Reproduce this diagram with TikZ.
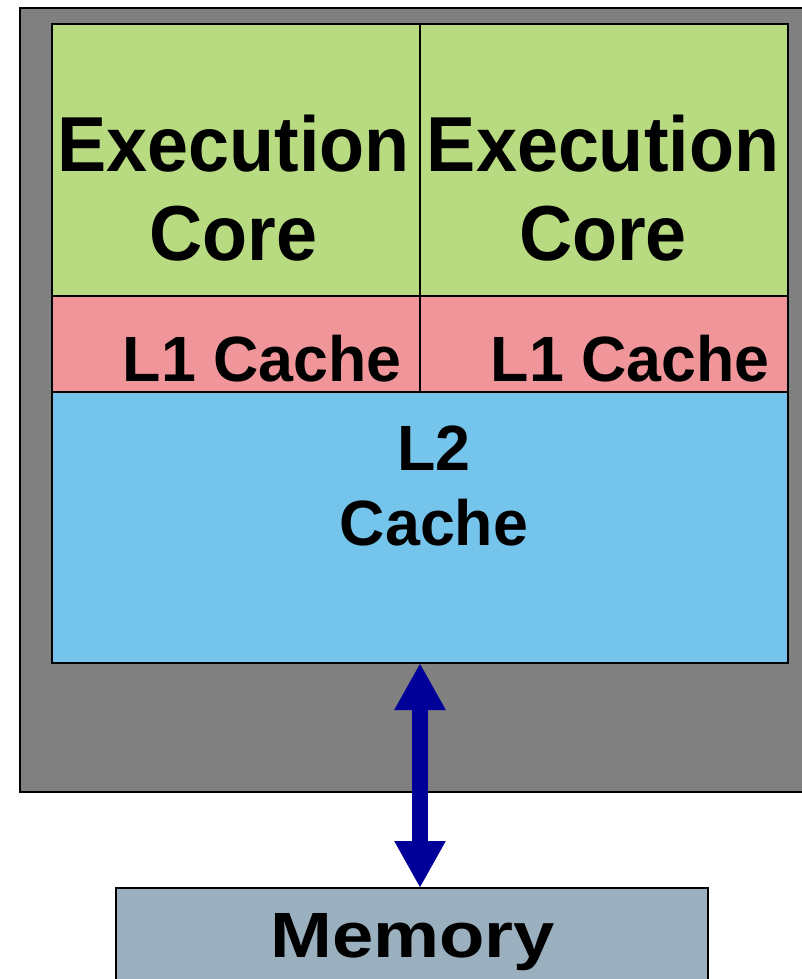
\documentclass[tikz,border=0pt]{standalone}
\usepackage{fontspec}
\setmainfont{Liberation Sans}
\newfontfamily\corefont{Liberation Sans}[FakeStretch=0.945]
\newfontfamily\cachefont{Liberation Sans}[FakeStretch=0.98]
\newfontfamily\memfont{Liberation Sans}[FakeStretch=1.16]
\usetikzlibrary{arrows.meta}

\definecolor{chipgray}{RGB}{128,128,128}
\definecolor{coregreen}{RGB}{184,218,128}
\definecolor{lonepink}{RGB}{240,150,154}
\definecolor{ltwoblue}{RGB}{117,196,236}
\definecolor{memgray}{RGB}{155,176,191}
\definecolor{busblue}{RGB}{0,0,153}

\begin{document}
\begin{tikzpicture}[x=1pt, y=-1pt,
	box/.style={draw, line width=2pt, rectangle, inner sep=0pt, outer sep=0pt},
	txt/.style={inner sep=0pt, font=\bfseries},
	bus/.style={line width=16pt, busblue, {Triangle[width=48pt, length=47pt]}-{Triangle[width=48pt, length=47pt]}}]
	\useasboundingbox (0,0) rectangle (801,979);
	\node [box, fill=chipgray, minimum width=795pt, minimum height=784pt] (chip) at (417.5,400) {};
	\node [box, fill=coregreen, minimum width=368pt, minimum height=272pt] (corea) at (236,160) {};
	\node [box, fill=coregreen, minimum width=368pt, minimum height=272pt] (coreb) at (604,160) {};
	\node [box, fill=lonepink, minimum width=368pt, minimum height=96pt] (lonea) at (236,344) {};
	\node [box, fill=lonepink, minimum width=368pt, minimum height=96pt] (loneb) at (604,344) {};
	\node [box, fill=ltwoblue, minimum width=736pt, minimum height=271pt] (ltwo) at (420,527.5) {};
	\node [box, fill=memgray, minimum width=592pt, minimum height=122pt] (mem) at (412,949) {};
	\node [txt, align=center, font=\corefont\bfseries\fontsize{78}{89}\selectfont] (coreatext) at (233.5,188) {Execution\\Core};
	\node [txt, align=center, font=\corefont\bfseries\fontsize{78}{89}\selectfont] (corebtext) at (603,188) {Execution\\Core};
	\node [txt, anchor=base east, font=\cachefont\bfseries\fontsize{64}{75}\selectfont] (lonetexta) at (402,381) {L1 Cache};
	\node [txt, anchor=base east, font=\cachefont\bfseries\fontsize{64}{75}\selectfont] (lonetextb) at (770,381) {L1 Cache};
	\node [txt, align=center, font=\cachefont\bfseries\fontsize{64}{75}\selectfont] (ltwotext) at (434,486) {L2\\Cache};
	\node [txt, anchor=base, font=\memfont\bfseries\fontsize{64}{75}\selectfont] (memtext) at (412.5,957) {Memory};
	\draw [bus] (ltwo.south) -- (ltwo.south |- mem.north);
\end{tikzpicture}
\end{document}
